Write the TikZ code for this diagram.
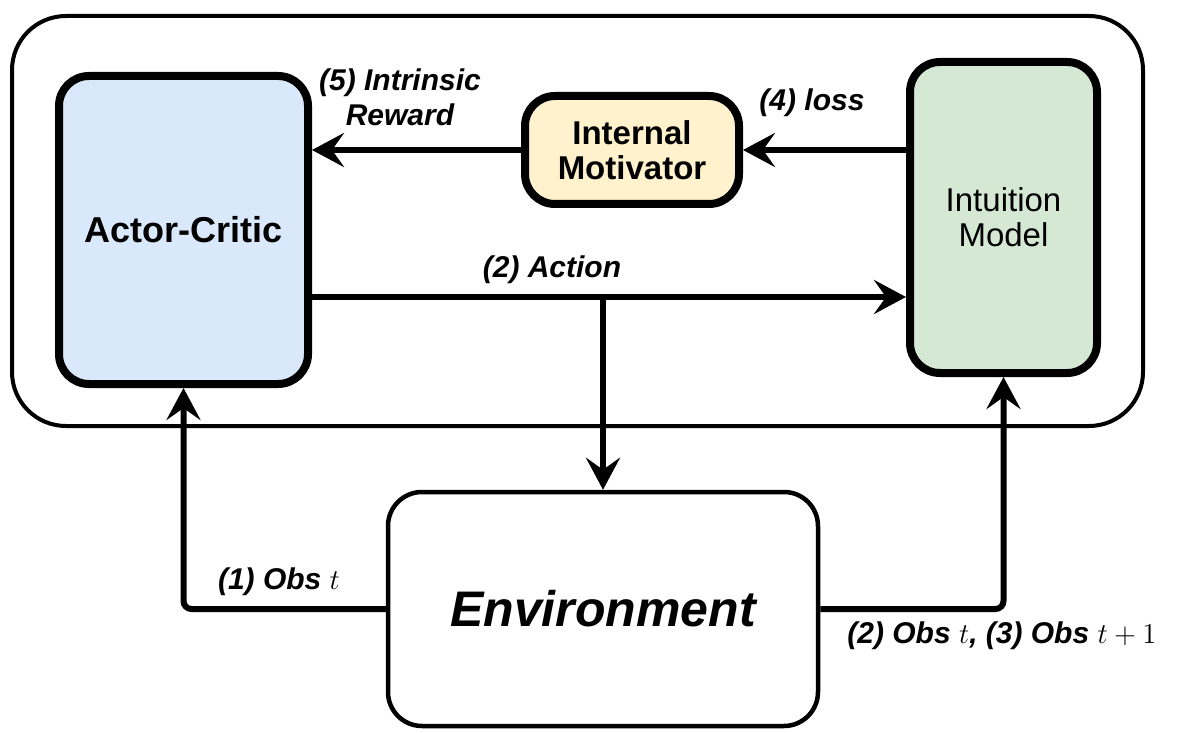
\documentclass[tikz,border=0pt]{standalone}
\usepackage{fontspec}
\setmainfont{Liberation Sans}
\usetikzlibrary{arrows.meta}

\definecolor{acblue}{HTML}{DAE8FC}
\definecolor{imyellow}{HTML}{FFF2CC}
\definecolor{imgreen}{HTML}{D5E8D4}

\begin{document}
\begin{tikzpicture}[x=0.5pt, y=-0.5pt,
  >={Stealth[length=16pt, width=17pt, inset=6pt]},
  block/.style={draw=black, line width=4pt, rounded corners=15pt, align=center, inner sep=0pt},
  flow/.style={draw=black, line width=3pt, ->},
  lbl/.style={font=\fontsize{15}{17.5}\selectfont\bfseries\itshape, align=center, inner sep=0pt}]
\useasboundingbox (0,0) rectangle (1180,733);
% agent frame
\node[draw=black, line width=2pt, rounded corners=27pt, minimum width=565.5pt, minimum height=205pt] (agent) at (577.5,221) {};
% boxes
\node[block, fill=acblue, minimum width=124.5pt, minimum height=154pt, font=\fontsize{18}{21}\selectfont\bfseries] (actor) at (183.5,230) {Actor-Critic};
\node[block, fill=imyellow, minimum width=107pt, minimum height=54pt, font=\fontsize{16.5}{17.5}\selectfont\bfseries] (motiv) at (632,150) {Internal\\Motivator};
\node[block, fill=imgreen, minimum width=93.5pt, minimum height=155.5pt, font=\fontsize{16.5}{17.5}\selectfont] (intuit) at (1003.5,217.5) {Intuition\\Model};
\node[block, fill=white, line width=2.25pt, rounded corners=17pt, minimum width=215pt, minimum height=117pt, font=\fontsize{25}{30}\selectfont\bfseries\itshape] (env) at (603,609) {Environment};
% connectors
\coordinate (actout) at ([yshift=-33.5pt]actor.east);
\coordinate (split) at (env.north |- actout);
\draw[flow] (motiv.west) -- (motiv.west -| actor.east);
\draw[flow] (intuit.west |- motiv.east) -- (motiv.east);
\draw[flow] (actout) -- (actout -| intuit.west);
\draw[flow] (split) -- (env.north);
\draw[flow, rounded corners=4pt] (env.west) -| (actor.south);
\draw[flow, rounded corners=4pt] (env.east) -| (intuit.south);
% labels
\node[lbl] (rewardlbl) at (400,97) {(5) Intrinsic\\Reward};
\node[lbl] (losslbl) at (812,103) {(4) loss};
\node[lbl] (actionlbl) at (552,270) {(2) Action};
\node[lbl] (obslbl) at (279,582) {(1) Obs $t$};
\node[lbl] (nextlbl) at (1002,636) {(2) Obs $t$, (3) Obs $t+1$};
\end{tikzpicture}
\end{document}
